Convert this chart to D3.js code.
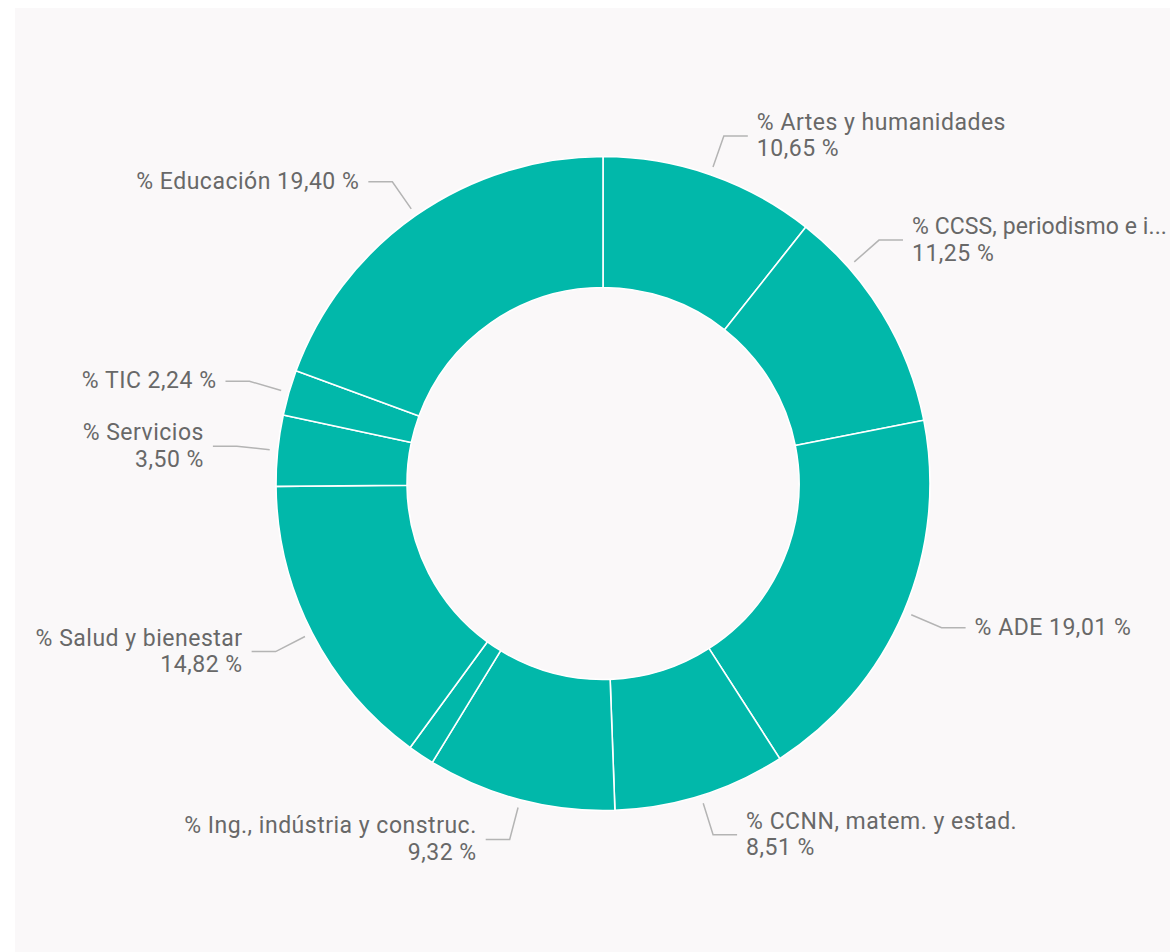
<!DOCTYPE html>
<html>
<head>
<meta charset="utf-8">
<script src="https://cdn.jsdelivr.net/npm/d3@7/dist/d3.min.js"></script>
<style>
  html, body { margin: 0; padding: 0; background: #ffffff; }
  svg { display: block; }
</style>
</head>
<body>
<svg id="chart" width="1170" height="952"></svg>
<script>
// ---- Data ----
const categories = [
  "% Artes y humanidades",
  "% CCSS, periodismo e i...",
  "% ADE",
  "% CCNN, matem. y estad.",
  "% Ing., indústria y construc.",
  "% Agricultura",
  "% Salud y bienestar",
  "% Servicios",
  "% TIC",
  "% Educación"
];
const values = [10.65, 11.25, 19.01, 8.51, 9.32, 1.30, 14.82, 3.50, 2.24, 19.40];

// ---- Layout / style config ----
const W = 1170, H = 952;
const cx = 603, cy = 483.5;
const outerR = 327, innerR = 196;
const leaderStartR = 335, leaderElbowR = 368, leaderHoriz = 24, textGap = 9;
const oneLineLabels = new Set(["% ADE", "% TIC", "% Educación"]);
const hiddenLabels = new Set(["% Agricultura"]);
const angleShiftDeg = { "% CCSS, periodismo e i...": -10 };
const fill = "#01B8AA";
const textColor = "#686868";
const leaderColor = "#b4b4b4";
const fontFamily = "Roboto, 'Noto Sans', sans-serif";
const fontSize = 23;
const letterSpacing = 0.5;
const rightLimit = W - 3;

const fmt = v => d3.format(".2f")(v).replace(".", ",") + " %";

const data = categories.map((c, i) => ({ name: c, value: values[i] }));

const svg = d3.select("#chart");

// panel background
svg.append("rect")
  .attr("x", 15).attr("y", 8)
  .attr("width", W - 15).attr("height", H - 8)
  .attr("fill", "#faf8f9");

const g = svg.append("g").attr("transform", `translate(${cx},${cy})`);

const pie = d3.pie().sort(null).value(d => d.value).startAngle(0).endAngle(2 * Math.PI);
const arcs = pie(data);

const arc = d3.arc().innerRadius(innerR).outerRadius(outerR);

g.selectAll("path.slice")
  .data(arcs)
  .join("path")
  .attr("class", "slice")
  .attr("d", arc)
  .attr("fill", fill)
  .attr("stroke", "#ffffff")
  .attr("stroke-width", 1.6)
  .attr("stroke-linejoin", "round");

// labels
const labelG = g.append("g");
arcs.forEach(a => {
  const name = a.data.name;
  if (hiddenLabels.has(name)) return;
  let ang = (a.startAngle + a.endAngle) / 2;
  if (angleShiftDeg[name]) ang += angleShiftDeg[name] * Math.PI / 180;
  const sx = Math.sin(ang), sy = -Math.cos(ang);
  const p0 = [leaderStartR * sx, leaderStartR * sy];
  const p1 = [leaderElbowR * sx, leaderElbowR * sy];
  const right = sx >= 0;
  const p2 = [p1[0] + (right ? leaderHoriz : -leaderHoriz), p1[1]];

  labelG.append("polyline")
    .attr("points", [p0, p1, p2].map(p => p.join(",")).join(" "))
    .attr("fill", "none")
    .attr("stroke", leaderColor)
    .attr("stroke-width", 1.5);

  const tx = p2[0] + (right ? textGap : -textGap);
  const t = labelG.append("text")
    .attr("x", tx)
    .attr("text-anchor", right ? "start" : "end")
    .attr("font-family", fontFamily)
    .attr("font-size", fontSize)
    .attr("letter-spacing", letterSpacing)
    .attr("fill", textColor);

  let spans;
  if (oneLineLabels.has(name)) {
    spans = [t.append("tspan").attr("x", tx).attr("y", p1[1] + 7).text(name + " " + fmt(a.data.value))];
  } else {
    spans = [
      t.append("tspan").attr("x", tx).attr("y", p1[1] - 6).text(name),
      t.append("tspan").attr("x", tx).attr("y", p1[1] + 20.5).text(fmt(a.data.value))
    ];
  }
  // keep right-side texts inside the picture by tightening spacing if needed
  if (right) {
    spans.forEach(s => {
      const len = s.node().getComputedTextLength();
      const avail = rightLimit - (cx + tx);
      if (len > avail) {
        const n = s.text().length;
        s.attr("letter-spacing", letterSpacing - (len - avail) / n);
      }
    });
  }
});
</script>
</body>
</html>
